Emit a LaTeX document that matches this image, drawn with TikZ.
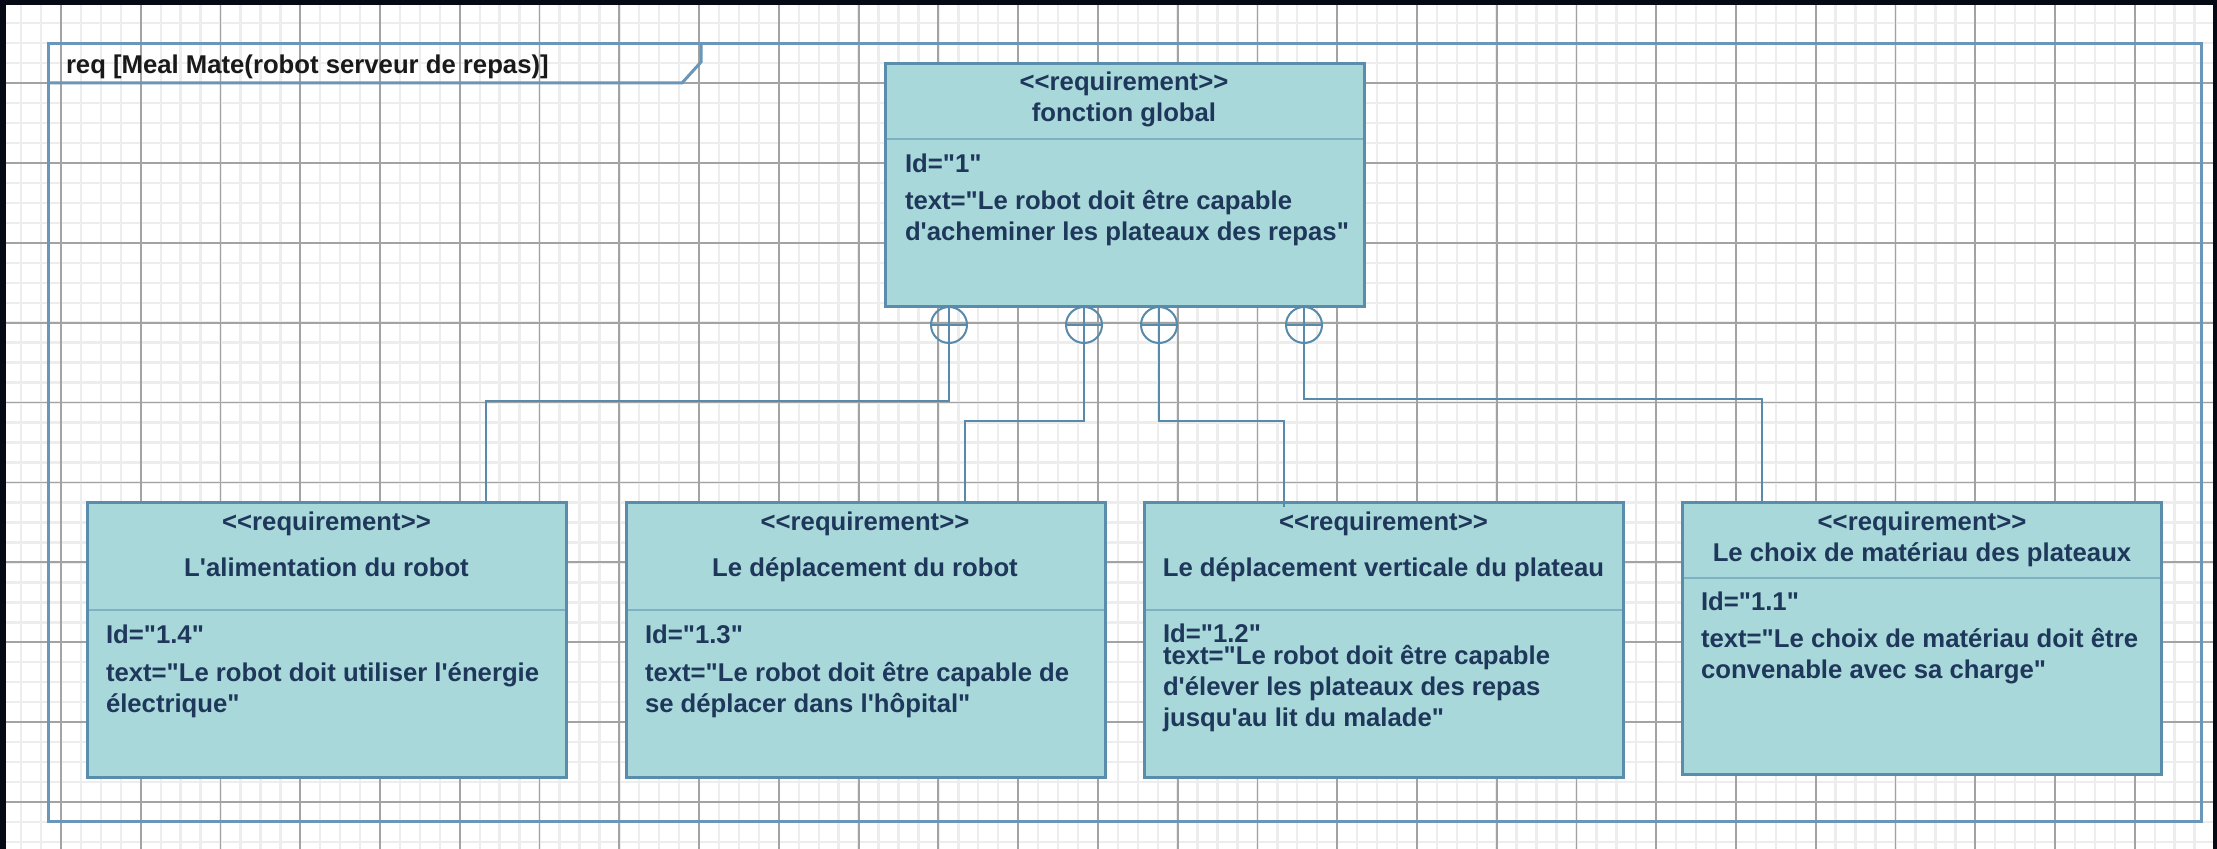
\documentclass[tikz,border=0pt]{standalone}
\usepackage{fontspec}
\newfontfamily\reqfont{Liberation Sans}
\usetikzlibrary{calc}

\definecolor{reqfill}{RGB}{168,216,218}
\definecolor{reqline}{RGB}{90,140,172}
\definecolor{reqsep}{RGB}{125,178,196}
\definecolor{reqtext}{RGB}{30,55,90}
\definecolor{framecol}{RGB}{105,150,185}
\definecolor{linkcol}{RGB}{88,138,172}
\definecolor{edgecol}{RGB}{6,10,20}

\begin{document}
\begin{tikzpicture}[x=0.5pt, y=-0.5pt,
    every node/.style={font=\reqfont\bfseries\fontsize{12.85}{15.5}\selectfont, inner sep=0, outer sep=0},
    req/.style={rectangle, draw=reqline, fill=reqfill, line width=1.5pt, minimum width=239.5pt, anchor=north west},
    head/.style={align=center, anchor=base, text=reqtext},
    body/.style={align=left, anchor=base west, text=reqtext},
    sepline/.style={draw=reqsep, line width=1pt},
    link/.style={draw=linkcol, line width=1pt},
    contain/.style={circle, draw=linkcol, line width=1pt, minimum size=18pt},
    minor/.style={draw=black!7, line width=1.2pt},
    major/.style={draw=black!36, line width=0.9pt}]
        \useasboundingbox (0,0) rectangle (2217,849);
        \fill[white] (0,0) rectangle (2217,849);
        % background grid
        \foreach \i in {-3,...,108}
            \draw[minor] ({61+19.94*\i},0) -- ++(0,849);
        \foreach \j in {-4,...,38}
            \draw[minor] (0,{83+19.975*\j}) -- ++(2217,0);
        \foreach \i in {0,...,26}
            \draw[major] ({61+79.76*\i},0) -- ++(0,849);
        \foreach \j in {-1,...,9}
            \draw[major] (0,{83+79.9*\j}) -- ++(2217,0);
        % diagram frame
        \draw[framecol, line width=1.5pt] (48,44) rectangle (2201,821);
        \draw[framecol, line width=1.5pt] (48,83) -- (682,83) -- (701,62) -- (701,44);
        \node[anchor=base west, text=black!90] (diagtitle) at (66,74) {req [Meal Mate(robot serveur de repas)]};
        % requirements (multi-line texts sit on their last baseline)
        \node[req, minimum height=121.5pt] (glob) at (885,64) {};
        \node[req, minimum height=137pt] (alim) at (87,503) {};
        \node[req, minimum height=137pt] (depl) at (626,503) {};
        \node[req, minimum height=137pt] (vert) at (1144,503) {};
        \node[req, minimum height=135.5pt] (choix) at (1682,503) {};
        \foreach \b/\h in {glob/75, alim/107, depl/107, vert/107, choix/75}
            \draw[sepline] ($(\b.north west)+(1.5,\h)$) -- ($(\b.north east)+(-1.5,\h)$);
        \node[head] (globhead) at (1124,122) {<<requirement>>\\fonction global};
        \node[head] (alimhead) at (326.5,577) {<<requirement>>\\[7.5pt]L'alimentation du robot};
        \node[head] (deplhead) at (865,577) {<<requirement>>\\[7.5pt]Le déplacement du robot};
        \node[head] (verthead) at (1383.5,577) {<<requirement>>\\[7.5pt]Le déplacement verticale du plateau};
        \node[head] (choixhead) at (1922,562) {<<requirement>>\\Le choix de matériau des plateaux};
        \node[body] (globbody) at (905,241) {Id="1"\\[3pt]text="Le robot doit être capable\\d'acheminer les plateaux des repas"};
        \node[body] (alimbody) at (106,712) {Id="1.4"\\[3.5pt]text="Le robot doit utiliser l'énergie\\électrique"};
        \node[body] (deplbody) at (645,712) {Id="1.3"\\[3.5pt]text="Le robot doit être capable de\\se déplacer dans l'hôpital"};
        \node[body] (vertbody) at (1163,726) {Id="1.2"\\[-4.5pt]text="Le robot doit être capable\\d'élever les plateaux des repas\\jusqu'au lit du malade"};
        \node[body] (choixbody) at (1701,678) {Id="1.1"\\[2.5pt]text="Le choix de matériau doit être\\convenable avec sa charge"};
        % containment links
        \node[contain] (c1) at (949,325) {};
        \node[contain] (c2) at (1084,325) {};
        \node[contain] (c3) at (1159,325) {};
        \node[contain] (c4) at (1304,325) {};
        \foreach \c in {c1,c2,c3,c4}
            \draw[link] (\c.north) -- (\c.south) (\c.west) -- (\c.east);
        \draw[link] (c1.south) -- ++(0,58) -| ($(alim.north west)+(399,0)$);
        \draw[link] (c2.south) -- ++(0,78) -| ($(depl.north west)+(339,0)$);
        \draw[link] (c3.south) -- ++(0,78) -| ($(vert.north west)+(140,4)$);
        \draw[link] (c4.south) -- ++(0,56) -| ($(choix.north west)+(80,0)$);
        % dark edge of the capture
        \fill[edgecol] (0,0) rectangle (6,849);
        \fill[edgecol] (0,0) rectangle (2217,5);
        \fill[edgecol] (2213,0) rectangle (2217,849);
    \end{tikzpicture}
\end{document}
